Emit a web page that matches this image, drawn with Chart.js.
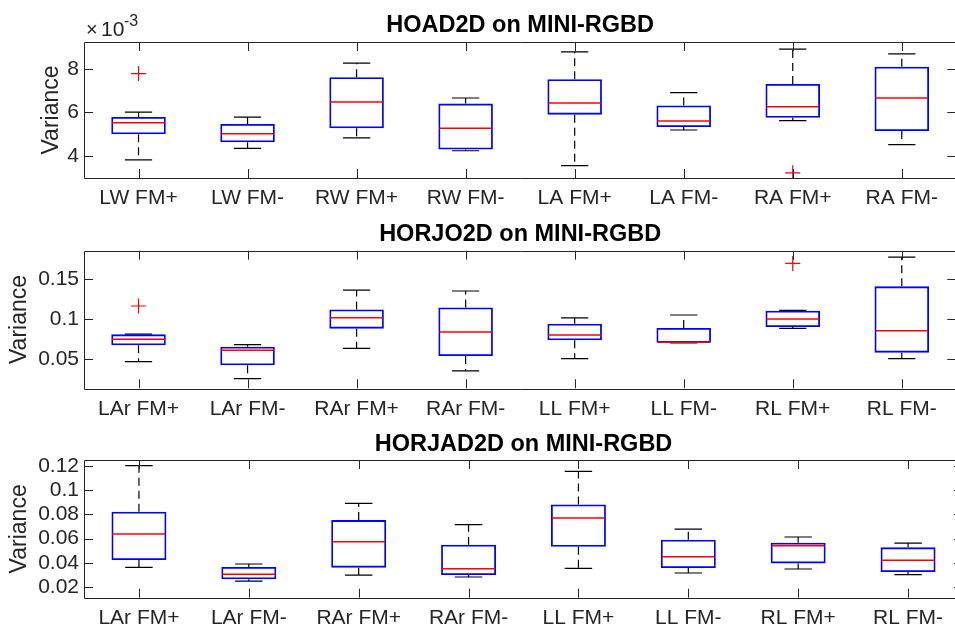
<!DOCTYPE html>
<html>
<head>
<meta charset="utf-8">
<script src="https://cdn.jsdelivr.net/npm/chart.js@4.4.1/dist/chart.umd.min.js"></script>
<style>
  html, body { margin: 0; padding: 0; background: #fff; overflow: hidden; }
  #wrap { position: relative; width: 955px; height: 628px; overflow: hidden; }
  canvas { position: absolute; left: 0; }
</style>
</head>
<body>
<div id="wrap">
  <canvas id="c1" width="965" height="210" style="top:0"></canvas>
  <canvas id="c2" width="965" height="210" style="top:210px"></canvas>
  <canvas id="c3" width="965" height="208" style="top:420px"></canvas>
</div>
<script>
// ---- data ----
const hoadLabels = ['LW FM+', 'LW FM-', 'RW FM+', 'RW FM-', 'LA FM+', 'LA FM-', 'RA FM+', 'RA FM-'];
// HOAD2D values are in units of 1e-3
const hoadMin = [3.81, 4.34, 4.83, 4.23, 3.54, 5.19, 5.62, 4.51];
const hoadQ1  = [4.99, 4.62, 5.27, 4.29, 5.90, 5.33, 5.76, 5.14];
const hoadMed = [5.53, 5.02, 6.49, 5.27, 6.44, 5.61, 6.27, 6.67];
const hoadQ3  = [5.79, 5.47, 7.63, 6.41, 7.54, 6.32, 7.32, 8.12];
const hoadMax = [6.02, 5.79, 8.28, 6.67, 8.80, 6.92, 8.93, 8.71];
const hoadOutCat = ['LW FM+', 'RA FM+'];
const hoadOutVal = [7.80, 3.21];
const hoadTicks = [4, 6, 8];

const jointLabels = ['LAr FM+', 'LAr FM-', 'RAr FM+', 'RAr FM-', 'LL FM+', 'LL FM-', 'RL FM+', 'RL FM-'];

const horjoMin = [0.0473, 0.0261, 0.0639, 0.0357, 0.0510, 0.0705, 0.0888, 0.0510];
const horjoQ1  = [0.0676, 0.0427, 0.0884, 0.0544, 0.0739, 0.0708, 0.0905, 0.0585];
const horjoMed = [0.0751, 0.0614, 0.1021, 0.0842, 0.0805, 0.0714, 0.1004, 0.0859];
const horjoQ3  = [0.0813, 0.0660, 0.1124, 0.1149, 0.0946, 0.0892, 0.1108, 0.1411];
const horjoMax = [0.0817, 0.0685, 0.1365, 0.1353, 0.1017, 0.1054, 0.1112, 0.1776];
const horjoOutCat = ['LAr FM+', 'RL FM+'];
const horjoOutVal = [0.1166, 0.1697];
const horjoTicks = [0.05, 0.1, 0.15];

const horjadMin = [0.0364, 0.0252, 0.0301, 0.0285, 0.0356, 0.0318, 0.0351, 0.0304];
const horjadQ1  = [0.0425, 0.0266, 0.0362, 0.0301, 0.0534, 0.0359, 0.0397, 0.0326];
const horjadMed = [0.0638, 0.0307, 0.0575, 0.0353, 0.0770, 0.0452, 0.0542, 0.0422];
const horjadQ3  = [0.0822, 0.0367, 0.0753, 0.0551, 0.0882, 0.0592, 0.0567, 0.0529];
const horjadMax = [0.1200, 0.0392, 0.0890, 0.0715, 0.1153, 0.0679, 0.0614, 0.0564];
const horjadOutCat = [];
const horjadOutVal = [];
const horjadTicks = [0.02, 0.04, 0.06, 0.08, 0.1, 0.12];

const FONT = "'Liberation Sans', Arial, Helvetica, sans-serif";
const AXIS_COLOR = '#262626';
const TITLE_SIZE = 23.5;

// whiskers under the boxes, medians on top
const boxParts = {
    id: 'boxParts',
    beforeDatasetsDraw(chart) {
        const d = chart.options.plugins.boxParts;
        const { ctx, scales: { y } } = chart;
        const meta = chart.getDatasetMeta(0);
        ctx.save();
        ctx.strokeStyle = '#000';
        ctx.lineWidth = 1.2;
        meta.data.forEach((bar, i) => {
            const cx = bar.x, cw = bar.width / 4;
            const yMin = y.getPixelForValue(d.min[i]), yMax = y.getPixelForValue(d.max[i]);
            const yQ1 = y.getPixelForValue(d.q1[i]), yQ3 = y.getPixelForValue(d.q3[i]);
            ctx.setLineDash([8, 5]);
            ctx.beginPath();
            ctx.moveTo(cx, yQ3); ctx.lineTo(cx, yMax);
            ctx.moveTo(cx, yQ1); ctx.lineTo(cx, yMin);
            ctx.stroke();
            ctx.setLineDash([]);
            ctx.beginPath();
            ctx.moveTo(cx - cw, yMax); ctx.lineTo(cx + cw, yMax);
            ctx.moveTo(cx - cw, yMin); ctx.lineTo(cx + cw, yMin);
            ctx.stroke();
        });
        ctx.restore();
    },
    afterDatasetsDraw(chart) {
        const d = chart.options.plugins.boxParts;
        const { ctx, scales: { y } } = chart;
        const meta = chart.getDatasetMeta(0);
        ctx.save();
        ctx.strokeStyle = '#ff0000';
        ctx.lineWidth = 1.5;
        meta.data.forEach((bar, i) => {
            const hw = bar.width / 2 - 1;
            const ym = y.getPixelForValue(d.med[i]);
            ctx.beginPath();
            ctx.moveTo(bar.x - hw, ym); ctx.lineTo(bar.x + hw, ym);
            ctx.stroke();
        });
        ctx.restore();
    },
    afterDraw(chart) {
        // axes box with inward ticks, like matlab
        const { ctx, chartArea: a, scales: { x, y } } = chart;
        const tl = 9;
        ctx.save();
        ctx.strokeStyle = AXIS_COLOR;
        ctx.lineWidth = 1;
        ctx.beginPath();
        ctx.rect(Math.round(a.left) + 0.5, Math.round(a.top) + 0.5, Math.round(a.right - a.left), Math.round(a.bottom - a.top));
        x.ticks.forEach((t, i) => {
            const px = Math.round(x.getPixelForTick(i)) + 0.5;
            ctx.moveTo(px, a.bottom); ctx.lineTo(px, a.bottom - tl);
            ctx.moveTo(px, a.top); ctx.lineTo(px, a.top + tl);
        });
        y.ticks.forEach((t, i) => {
            const py = Math.round(y.getPixelForTick(i)) + 0.5;
            ctx.moveTo(a.left, py); ctx.lineTo(a.left + tl, py);
            ctx.moveTo(a.right, py); ctx.lineTo(a.right - tl, py);
        });
        ctx.stroke();
        const exp = chart.options.plugins.boxParts.exponent;
        if (exp) {
            ctx.fillStyle = AXIS_COLOR;
            ctx.textBaseline = 'alphabetic';
            ctx.font = '20px ' + FONT;
            ctx.fillText('\u00d7', a.left + 2, 36);
            ctx.font = '21px ' + FONT;
            ctx.fillText('10', a.left + 17, 36);
            ctx.font = '16px ' + FONT;
            ctx.fillText(exp, a.left + 40, 26);
        }
        ctx.restore();
    }
};

function makePanel(id, cfg) {
    const titleLine = TITLE_SIZE * 1.2;
    const titleTop = cfg.titleBaseline - 0.3465 * TITLE_SIZE - titleLine / 2;
    const titleBottom = cfg.areaTop - titleTop - titleLine;
    const canvas = document.getElementById(id);
    return new Chart(canvas, {
        type: 'bar',
        data: {
            labels: cfg.labels,
            datasets: [{
                data: cfg.q1.map((v, i) => [v, cfg.q3[i]]),
                backgroundColor: 'rgba(0,0,0,0)',
                borderColor: '#0000ff',
                borderWidth: 1.8,
                borderSkipped: false,
                barPercentage: 0.5,
                categoryPercentage: 1
            }, {
                type: 'scatter',
                data: cfg.outCat.map((c, i) => ({ x: c, y: cfg.outVal[i] })),
                pointStyle: 'cross',
                pointRadius: 7.5,
                borderColor: '#ff0000',
                backgroundColor: '#ff0000',
                borderWidth: 1.2
            }]
        },
        options: {
            responsive: false,
            animation: false,
            layout: { padding: { left: 0, right: 2, top: 0, bottom: 0 } },
            plugins: {
                legend: { display: false },
                tooltip: { enabled: false },
                title: {
                    display: true,
                    text: cfg.title,
                    color: '#000',
                    fullSize: false,
                    font: { family: FONT, size: TITLE_SIZE, weight: 'bold' },
                    padding: { top: titleTop, bottom: titleBottom }
                },
                boxParts: {
                    min: cfg.min, q1: cfg.q1, med: cfg.med, q3: cfg.q3, max: cfg.max,
                    exponent: cfg.exponent
                }
            },
            scales: {
                x: {
                    type: 'category',
                    offset: true,
                    grid: { display: false, drawTicks: false },
                    border: { display: false },
                    ticks: {
                        color: AXIS_COLOR,
                        font: { family: FONT, size: 21 },
                        padding: 8,
                        autoSkip: false,
                        maxRotation: 0
                    },
                    afterFit(s) { s.height = canvas.height - cfg.areaBottom; }
                },
                y: {
                    type: 'linear',
                    min: cfg.yMin,
                    max: cfg.yMax,
                    grid: { display: false, drawTicks: false },
                    border: { display: false },
                    afterBuildTicks(s) { s.ticks = cfg.ticks.map(v => ({ value: v })); },
                    ticks: {
                        color: AXIS_COLOR,
                        font: { family: FONT, size: 21 },
                        padding: 5,
                        autoSkip: false,
                        callback: v => String(v)
                    },
                    title: {
                        display: true,
                        text: 'Variance',
                        color: AXIS_COLOR,
                        font: { family: FONT, size: 23 },
                        padding: { top: cfg.yTitlePad, bottom: 0 }
                    },
                    afterFit(s) { s.width = 84; }
                }
            }
        },
        plugins: [boxParts]
    });
}

makePanel('c1', {
    title: 'HOAD2D on MINI-RGBD', labels: hoadLabels,
    min: hoadMin, q1: hoadQ1, med: hoadMed, q3: hoadQ3, max: hoadMax,
    outCat: hoadOutCat, outVal: hoadOutVal, ticks: hoadTicks,
    yMin: 2.97, yMax: 9.26, exponent: '-3',
    areaTop: 42, areaBottom: 178, titleBaseline: 33.3, yTitlePad: 38
});
makePanel('c2', {
    title: 'HORJO2D on MINI-RGBD', labels: jointLabels,
    min: horjoMin, q1: horjoQ1, med: horjoMed, q3: horjoQ3, max: horjoMax,
    outCat: horjoOutCat, outVal: horjoOutVal, ticks: horjoTicks,
    yMin: 0.0141, yMax: 0.1855,
    areaTop: 40.7, areaBottom: 178.3, titleBaseline: 32.3, yTitlePad: 5.5
});
makePanel('c3', {
    title: 'HORJAD2D on MINI-RGBD', labels: jointLabels,
    min: horjadMin, q1: horjadQ1, med: horjadMed, q3: horjadQ3, max: horjadMax,
    outCat: horjadOutCat, outVal: horjadOutVal, ticks: horjadTicks,
    yMin: 0.0115, yMax: 0.1247,
    areaTop: 40, areaBottom: 177.7, titleBaseline: 32.3, yTitlePad: 6
});
</script>
</body>
</html>
